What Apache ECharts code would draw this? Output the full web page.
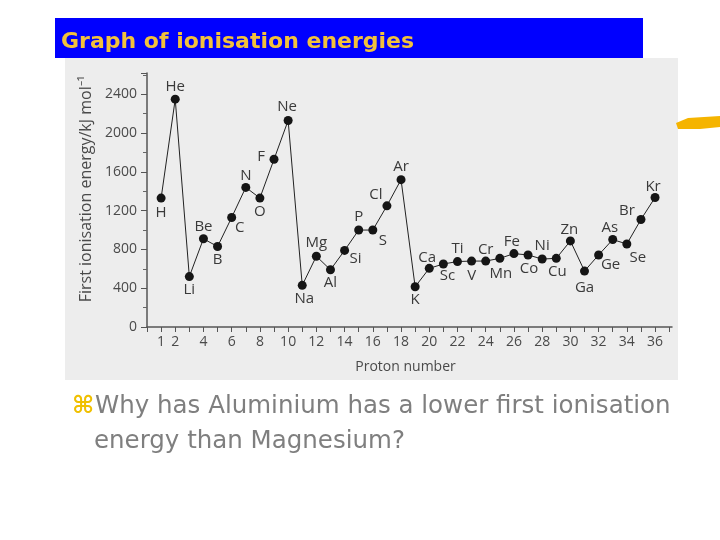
<!DOCTYPE html>
<html>
<head>
<meta charset="utf-8">
<script src="https://cdn.jsdelivr.net/npm/echarts@6/dist/echarts.min.js"></script>
<style>
html, body { margin: 0; padding: 0; background: #fff; }
#main { width: 720px; height: 540px; }
</style>
</head>
<body>
<div id="main"></div>
<script>
// data
const protonNumber = [1, 2, 3, 4, 5, 6, 7, 8, 9, 10, 11, 12, 13, 14, 15, 16, 17, 18,
  19, 20, 21, 22, 23, 24, 25, 26, 27, 28, 29, 30, 31, 32, 33, 34, 35, 36];
const elements = ["H", "He", "Li", "Be", "B", "C", "N", "O", "F", "Ne", "Na", "Mg", "Al", "Si",
  "P", "S", "Cl", "Ar", "K", "Ca", "Sc", "Ti", "V", "Cr", "Mn", "Fe", "Co", "Ni", "Cu", "Zn",
  "Ga", "Ge", "As", "Se", "Br", "Kr"];
const firstIE = [1330, 2350, 520, 910, 830, 1130, 1440, 1330, 1730, 2130, 430, 730, 590, 790,
  1000, 1000, 1250, 1520, 415, 605, 650, 675, 680, 680, 708, 757, 743, 701, 708, 888,
  577, 743, 902, 856, 1109, 1336];
const xTickLabels = [1, 2, 4, 6, 8, 10, 12, 14, 16, 18, 20, 22, 24, 26, 28, 30, 32, 34, 36];
const yTickLabels = [0, 400, 800, 1200, 1600, 2000, 2400];

// where each element symbol sits relative to its dot
const labelShift = {
  H: [0, 15], He: [0, -12], Li: [0, 13], Be: [0, -12], B: [0, 13], C: [8, 10],
  N: [0, -12], O: [0, 14], F: [-13, -3], Ne: [-1, -14], Na: [2, 13], Mg: [0, -13],
  Al: [0, 13], Si: [11, 8], P: [0, -13], S: [10, 11], Cl: [-11, -11], Ar: [0, -13],
  K: [0, 13], Ca: [-2, -11], Sc: [4, 12], Ti: [0, -13], V: [0, 15], Cr: [0, -11],
  Mn: [1, 15], Fe: [-2, -12], Co: [1, 14], Ni: [0, -13], Cu: [1, 13], Zn: [-1, -11],
  Ga: [0, 17], Ge: [12, 10], As: [-3, -12], Se: [11, 14], Br: [-14, -9], Kr: [-2, -11]
};

const myChart = echarts.init(document.getElementById("main"));

let points = protonNumber.map((p, i) => {
  return {
    value: [p, firstIE[i]],
    name: elements[i],
    label: { offset: labelShift[elements[i]] }
  };
});

const axisGrey = "#4a4a4a";
const scanFont = "Open Sans";

let option = {
  animation: false,
  grid: { left: 147, top: 73, right: 48, bottom: 213, containLabel: false },
  xAxis: {
    type: "value",
    min: 0,
    max: 37.2,
    interval: 1,
    name: "Proton number",
    nameLocation: "middle",
    nameGap: 33,
    nameTextStyle: { color: axisGrey, fontSize: 14, fontFamily: scanFont, padding: [0, 8, 0, 0] },
    axisLine: { lineStyle: { color: "#555", width: 1.5 } },
    axisTick: { show: true, length: 5, lineStyle: { color: "#555" } },
    axisLabel: {
      color: axisGrey,
      fontSize: 14,
      fontFamily: scanFont,
      margin: 8,
      showMaxLabel: false,
      formatter: v => (xTickLabels.indexOf(v) >= 0 ? String(v) : "")
    },
    splitLine: { show: false }
  },
  yAxis: {
    type: "value",
    min: 0,
    max: 2620,
    interval: 400,
    name: "First ionisation energy/kJ mol⁻¹",
    nameLocation: "middle",
    nameGap: 51,
    nameTextStyle: { color: axisGrey, fontSize: 16, fontFamily: scanFont, padding: [0, 0, 0, 22] },
    axisLine: { show: true, lineStyle: { color: "#555", width: 1.5 } },
    axisTick: { show: true, length: 6, lineStyle: { color: "#555" } },
    minorTick: { show: true, splitNumber: 2, length: 4, lineStyle: { color: "#666" } },
    axisLabel: {
      color: axisGrey,
      fontSize: 14,
      fontFamily: scanFont,
      margin: 10,
      showMaxLabel: false,
      formatter: v => (yTickLabels.indexOf(v) >= 0 ? String(v) : "")
    },
    splitLine: { show: false }
  },
  series: [
    {
      type: "line",
      data: points,
      symbol: "circle",
      symbolSize: 9,
      itemStyle: { color: "#151515" },
      lineStyle: { color: "#222", width: 1 },
      label: {
        show: true,
        position: "inside",
        formatter: "{b}",
        color: "#3a3a3a",
        fontSize: 15,
        fontFamily: scanFont
      },
      z: 3
    }
  ],
  graphic: [
    // scanned picture background
    { type: "rect", z: -10, shape: { x: 65, y: 58, width: 613, height: 322 }, style: { fill: "#ededed" } },
    // title bar
    { type: "rect", z: -5, shape: { x: 55, y: 18, width: 588, height: 40 }, style: { fill: "#0000ff" } },
    {
      type: "text", z: 5, left: 61, top: 31,
      style: { text: "Graph of ionisation energies", fill: "#f2c13c", font: "bold 22px 'DejaVu Sans'" }
    },
    // yellow brush stroke
    {
      type: "polygon", z: 5,
      shape: { points: [[676, 123], [688, 118], [720, 116], [720, 127], [700, 129], [678, 129]] },
      style: { fill: "#f5b400" }
    },
    // bullet question
    {
      type: "text", z: 5, left: 72, top: 395,
      style: { text: "⌘", fill: "#f0c000", font: "bold 24px 'DejaVu Sans'" }
    },
    {
      type: "text", z: 5, left: 95, top: 394,
      style: { text: "Why has Aluminium has a lower first ionisation", fill: "#7f7f7f", font: "24.5px 'DejaVu Sans'" }
    },
    {
      type: "text", z: 5, left: 94, top: 429,
      style: { text: "energy than Magnesium?", fill: "#7f7f7f", font: "24.5px 'DejaVu Sans'" }
    }
  ]
};

myChart.setOption(option);
window.addEventListener("resize", () => {
  myChart.resize();
});
</script>
</body>
</html>
